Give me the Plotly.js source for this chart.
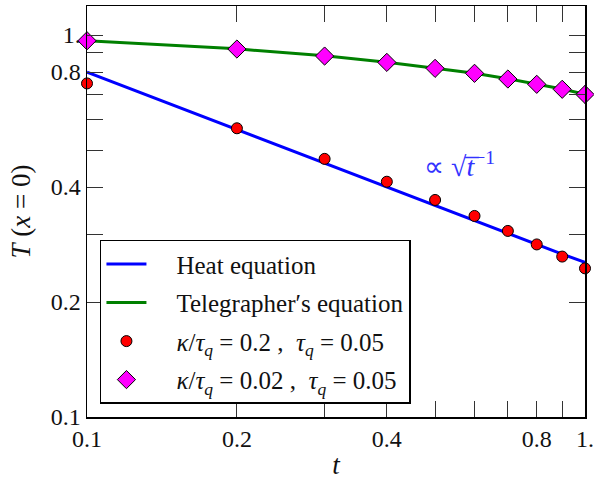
<!DOCTYPE html>
<html>
<head>
<meta charset="utf-8">
<script src="https://cdn.plot.ly/plotly-3.0.1.min.js"></script>
<style>html,body{margin:0;padding:0;background:#fff;}#plot{width:594px;height:480px;}</style>
</head>
<body>
<div id="plot"></div>
<script>
// Heat equation (blue line)
const heatT = [0.1, 0.2, 0.3, 0.4, 0.5, 0.6, 0.7, 0.8, 0.9, 1.0];
const heatY = [0.800, 0.566, 0.462, 0.400, 0.358, 0.327, 0.302, 0.283, 0.267, 0.254];
// Telegrapher's equation (green line)
const telT = [0.1, 0.2, 0.3, 0.4, 0.5, 0.6, 0.7, 0.8, 0.9, 1.0];
const telY = [0.966, 0.920, 0.882, 0.849, 0.819, 0.794, 0.768, 0.744, 0.722, 0.700];
// kappa/tau_q = 0.2 (red circles)
const redT = [0.1, 0.2, 0.3, 0.4, 0.5, 0.6, 0.7, 0.8, 0.9, 1.0];
const redY = [0.747, 0.570, 0.474, 0.413, 0.370, 0.336, 0.307, 0.283, 0.263, 0.245];
// kappa/tau_q = 0.02 (magenta diamonds)
const magT = [0.1, 0.2, 0.3, 0.4, 0.5, 0.6, 0.7, 0.8, 0.9, 1.0];
const magY = [0.966, 0.919, 0.881, 0.848, 0.818, 0.794, 0.767, 0.743, 0.721, 0.699];

const majorTicks = [0.1, 0.2, 0.4, 0.8, 1.0];
const majorText = ['0.1', '0.2', '0.4', '0.8', '1.'];
const minorTicks = [0.3, 0.5, 0.6, 0.7, 0.9];

const SERIF = 'Liberation Serif';
const PAD = '\u00a0\u00a0\u00a0\u00a0';

const traces = [
  {x: heatT, y: heatY, mode: 'lines', name: PAD + 'Heat equation', legendgroup: 'a',
   line: {color: '#0000ff', width: 3}},
  {x: telT, y: telY, mode: 'lines', name: PAD + 'Telegrapher\u2032s equation', legendgroup: 'b',
   line: {color: '#008000', width: 3}},
  {x: redT, y: redY, mode: 'markers', legendgroup: 'c',
   name: PAD + '<i>κ</i>/<i>τ<sub>q</sub></i> = 0.2 ,  <i>τ<sub>q</sub></i> = 0.05',
   marker: {symbol: 'circle', size: 11, color: '#ff0000', line: {color: '#000', width: 1}},
   cliponaxis: false},
  {x: magT, y: magY, mode: 'markers', legendgroup: 'd',
   name: PAD + '<i>κ</i>/<i>τ<sub>q</sub></i> = 0.02 ,  <i>τ<sub>q</sub></i> = 0.05',
   marker: {symbol: 'diamond', size: 14, color: '#ff00ff', line: {color: '#000', width: 1}},
   cliponaxis: false}
];

function axis(range, titleText, standoff) {
  return {
    type: 'log', range: range,
    tickvals: majorTicks, ticktext: majorText,
    ticks: 'inside', ticklen: 16, tickwidth: 1, tickcolor: '#333',
    minor: {tickvals: minorTicks, ticks: 'inside', ticklen: 16, tickwidth: 1, tickcolor: '#333', showgrid: false},
    showline: true, linecolor: '#000', linewidth: 1.5, mirror: 'ticks',
    showgrid: false, zeroline: false,
    tickfont: {family: SERIF, size: 24, color: '#111'},
    title: {text: titleText, font: {family: SERIF, size: 27, color: '#111'}, standoff: standoff}
  };
}

const layout = {
  width: 594, height: 480,
  margin: {l: 87, r: 9, t: 6, b: 63},
  xaxis: axis([-1, 0], '<i>t</i>', 4),
  yaxis: axis([-1, 0.076], '<i>T</i> (<i>x</i> = 0)', 12),
  legend: {
    x: 0.026, y: 0.032, xanchor: 'left', yanchor: 'bottom',
    bgcolor: '#fff', bordercolor: '#000', borderwidth: 1.5,
    font: {family: SERIF, size: 25, color: '#111'},
    itemwidth: 40, tracegroupgap: 3, traceorder: 'grouped'
  },
  annotations: [{
    xref: 'x', yref: 'y', x: Math.log10(0.56), y: Math.log10(0.457),
    text: '∝ √<i>t\u0305</i><sup>−1</sup>',
    showarrow: false, font: {family: SERIF, size: 28, color: '#3333ff'}
  }],
  showlegend: true
};

Plotly.newPlot('plot', traces, layout, {displayModeBar: false, staticPlot: true});
</script>
</body>
</html>
